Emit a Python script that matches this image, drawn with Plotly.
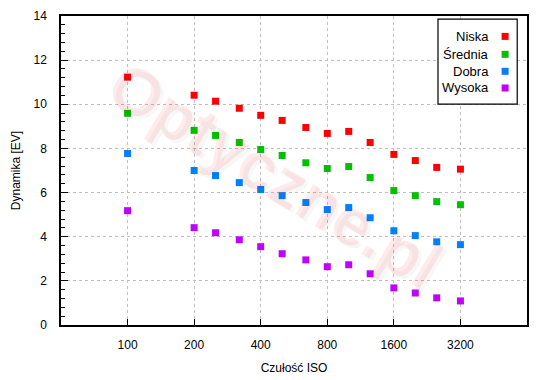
import plotly.graph_objects as go

iso = [100, 200, 250, 320, 400, 500, 640, 800, 1000, 1250, 1600, 2000, 2500, 3200]
niska = [11.23, 10.41, 10.14, 9.82, 9.50, 9.27, 8.95, 8.68, 8.77, 8.27, 7.73, 7.45, 7.14, 7.06]
srednia = [9.59, 8.82, 8.59, 8.27, 7.95, 7.68, 7.35, 7.09, 7.18, 6.68, 6.09, 5.86, 5.59, 5.45]
dobra = [7.77, 7.00, 6.77, 6.45, 6.14, 5.86, 5.55, 5.23, 5.32, 4.86, 4.27, 4.05, 3.77, 3.64]
wysoka = [5.18, 4.41, 4.18, 3.86, 3.55, 3.23, 2.95, 2.64, 2.73, 2.32, 1.68, 1.45, 1.23, 1.09]

series_names = ["Niska", "Średnia", "Dobra", "Wysoka"]
series_values = [niska, srednia, dobra, wysoka]
colors = ["#ff0000", "#00c000", "#0080ff", "#c000ff"]
x_ticks = [100, 200, 400, 800, 1600, 3200]
y_ticks = [0, 2, 4, 6, 8, 10, 12, 14]

FONT = "Liberation Sans, Arial, sans-serif"
PAGE_OFFSET = 8  # default body margin of the html page

fig = go.Figure()
for name, vals, col in zip(series_names, series_values, colors):
    fig.add_trace(go.Scatter(
        x=iso, y=vals, mode="markers", name=name,
        marker=dict(symbol="square", size=7, color=col, line=dict(width=0)),
        showlegend=False,
    ))

# watermark
for dx, dy, c in [(3, -3, "rgba(0,0,0,0.03)"), (0, 0, "rgba(255,0,0,0.08)")]:
    fig.add_annotation(text="<b>Optyczne.pl</b>", xref="paper", yref="paper",
                       x=0.459, y=0.485, showarrow=False, textangle=31,
                       xshift=dx, yshift=dy,
                       font=dict(family="Liberation Sans, Arial", size=66, color=c))

# manual legend (text left of marker)
shapes = [dict(type="rect", xref="paper", yref="paper", x0=0.809, x1=0.979, y0=0.715, y1=0.990,
               line=dict(color="black", width=1.2), fillcolor="white", layer="above")]
rows_y = [0.934, 0.876, 0.821, 0.767]
for name, col, ry in zip(series_names, colors, rows_y):
    fig.add_annotation(text=name, xref="paper", yref="paper", x=0.923, y=ry,
                       xanchor="right", yanchor="middle", showarrow=False,
                       font=dict(family=FONT, size=13, color="black"))
    shapes.append(dict(type="rect", xref="paper", yref="paper", xsizemode="pixel", ysizemode="pixel",
                       xanchor=0.953, yanchor=ry, x0=-3.5, x1=3.5, y0=-3.5, y1=3.5,
                       fillcolor=col, line=dict(width=0), layer="above"))

fig.update_layout(
    width=550 - PAGE_OFFSET, height=380 - PAGE_OFFSET,
    margin=dict(l=61 - PAGE_OFFSET, r=23, t=16 - PAGE_OFFSET, b=55, autoexpand=False),
    paper_bgcolor="white", plot_bgcolor="white",
    font=dict(family=FONT, size=12, color="black"),
    shapes=shapes,
    showlegend=False,
)
fig.update_xaxes(
    type="log", range=[1.69897, 3.80618], automargin=False,
    tickvals=x_ticks, ticktext=[str(v) for v in x_ticks],
    ticks="inside", ticklen=6, tickcolor="black",
    showline=True, linecolor="black", linewidth=1.5, mirror=True,
    showgrid=True, gridcolor="#c0c0c0", griddash="3px,3px", gridwidth=1,
    zeroline=False, ticklabelstandoff=8,
    title=dict(text="Czułość ISO", font=dict(size=12), standoff=12),
    tickfont=dict(size=12),
)
fig.update_yaxes(
    range=[0, 14], tickvals=y_ticks, automargin=False,
    ticks="inside", ticklen=7, tickcolor="black",
    minor=dict(dtick=0.4, tick0=0, ticks="inside", ticklen=4, tickcolor="black", showgrid=False),
    showline=True, linecolor="black", linewidth=1.5, mirror=True,
    showgrid=True, gridcolor="#c0c0c0", griddash="3px,3px", gridwidth=1,
    zeroline=False, ticklabelstandoff=10,
    title=dict(text="Dynamika [EV]", font=dict(size=12), standoff=10),
    tickfont=dict(size=12),
)

fig.write_html("out.html")
